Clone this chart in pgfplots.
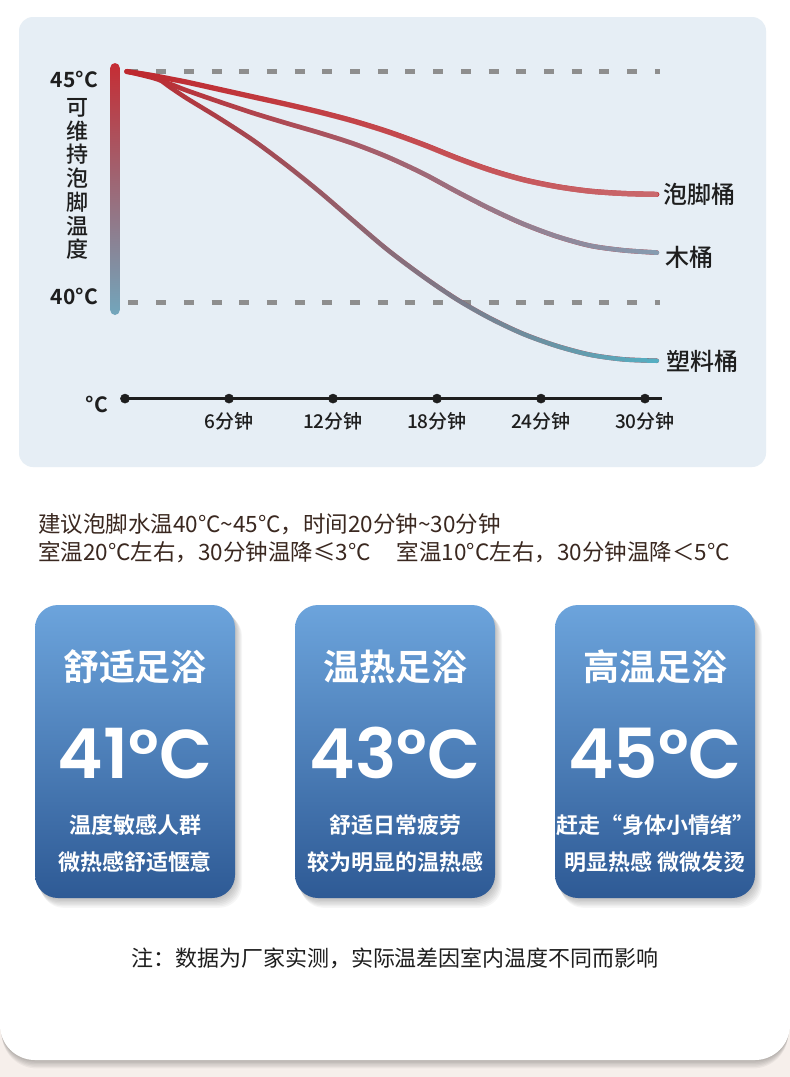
\documentclass[border=0pt]{standalone}
\usepackage{fontspec}
\usepackage{pgfplots}
\pgfplotsset{compat=1.18}
\usetikzlibrary{fadings}
\setmainfont{Noto Sans CJK SC}
\newfontfamily\cjkb{Noto Sans CJK SC Bold}
\newfontfamily\cjkm{Noto Sans CJK SC Medium}
\newfontfamily\pop{Poppins SemiBold}
\definecolor{pagebg}{RGB}{246,239,235}
\definecolor{panel}{RGB}{230,238,245}
\definecolor{dashgray}{RGB}{142,142,142}
\definecolor{axisblack}{RGB}{30,30,30}
\definecolor{txt}{RGB}{30,30,30}
\definecolor{brown}{RGB}{58,40,32}
\definecolor{cardtop}{RGB}{108,164,220}
\definecolor{cardbot}{RGB}{46,90,149}
\definecolor{bartop}{RGB}{197,45,52}
\definecolor{barbot}{RGB}{114,166,188}
\definecolor{cstart}{RGB}{190,40,46}
\definecolor{pjend}{RGB}{202,106,110}
\definecolor{mtend}{RGB}{134,157,178}
\definecolor{slend}{RGB}{84,176,196}
\tikzfading[name=fadeR, left color=transparent!100, right color=transparent!0]
\newcommand{\card}[5]{%
 \foreach \k in {1,...,7} {\fill[black,opacity=0.035,rounded corners=23] (#1-100+\k*0.8,-605-\k*1.2) rectangle (#1+100+\k*1.0,-898-\k*1.4);}
 \shade[top color=cardtop,bottom color=cardbot,rounded corners=23] (#1-100,-605) rectangle (#1+100,-898);
 \node[white,inner sep=0,font=\cjkb\fontsize{36}{36}\selectfont] at (#1,-667) {#2};
 \node[white,inner sep=0,anchor=base,font=\pop\fontsize{69}{69}\selectfont] at (#1,-778) {#3};
 \node[white,inner sep=0,font=\cjkb\fontsize{22}{22}\selectfont] at (#1,-825) {#4};
 \node[white,inner sep=0,font=\cjkb\fontsize{22}{22}\selectfont] at (#1,-862) {#5};
}
\pgfplotstableread{
t     pj     mt     sl
0.10  45.00  45.00  45.00
1.63  44.91  44.86  44.90
2.60  44.84  44.73  44.66
3.56  44.77  44.59  44.42
5.48  44.61  44.34  43.98
7.40  44.45  44.10  43.51
9.33  44.29  43.88  42.97
11.25 44.12  43.67  42.39
13.17 43.93  43.44  41.77
15.15 43.70  43.15  41.14
17.21 43.42  42.79  40.56
19.14 43.13  42.40  40.07
21.06 42.87  42.03  39.66
22.98 42.66  41.70  39.32
24.91 42.51  41.43  39.06
26.83 42.41  41.23  38.87
28.75 42.36  41.13  38.77
30.68 42.34  41.08  38.74
}\curves
\begin{document}
\begin{tikzpicture}[x=1pt,y=1pt]
\fill[pagebg] (0,0) rectangle (790,-1077);
\foreach \k in {1,...,6} {\fill[black,opacity=0.045,rounded corners=35] (\k*0.3,40) rectangle (790-\k*0.3,-1060-\k*1.4);}
\fill[white,rounded corners=35] (0,40) rectangle (790,-1060);
\fill[panel,rounded corners=14] (19,-17) rectangle (766,-467);
\shade[top color=bartop,bottom color=barbot,rounded corners=4.9] (110.2,-63) rectangle (119.8,-315);

\begin{axis}[at={(90.333pt,-418pt)}, anchor=south west, x=17.333pt, y=46.2pt,
  xmin=-2, xmax=32, ymin=37.5, ymax=45.5, hide axis, clip=false]
\addplot[dashgray, line width=5pt, dash pattern=on 10pt off 17.7pt] coordinates {(0.2,45) (30.85,45)};
\addplot[dashgray, line width=5pt, dash pattern=on 10pt off 17.7pt] coordinates {(0.2,40) (30.85,40)};
\addplot[axisblack, line width=3.3pt] coordinates {(0,37.92) (31.0,37.92)};
\addplot[only marks, mark=*, mark size=4.6pt, axisblack] coordinates {(0,37.92) (6,37.92) (12,37.92) (18,37.92) (24,37.92) (30,37.92)};
% plastic bucket
\addplot[smooth, cstart, line width=4.5pt, line cap=round] table[x=t,y=sl] {\curves};
\addplot[smooth, slend, line width=4.5pt, line cap=round, path fading=fadeR] table[x=t,y=sl] {\curves};
% wooden bucket
\addplot[smooth, cstart, line width=4.6pt, line cap=round] table[x=t,y=mt] {\curves};
\addplot[smooth, mtend, line width=4.6pt, line cap=round, path fading=fadeR] table[x=t,y=mt] {\curves};
% foot bath bucket
\addplot[smooth, cstart, line width=5.2pt, line cap=round] table[x=t,y=pj] {\curves};
\addplot[smooth, pjend, line width=5.2pt, line cap=round, path fading=fadeR] table[x=t,y=pj] {\curves};
\foreach \t/\lab in {6/6分钟,12/12分钟,18/18分钟,24/24分钟,30/30分钟} {
  \edef\temp{\noexpand\node[txt,inner sep=0,font=\noexpand\cjkm\noexpand\fontsize{19}{19}\noexpand\selectfont] at (axis cs:\t,37.42) {\lab};}
  \temp
}
\end{axis}

% left labels
\node[txt,anchor=east,inner sep=0,font=\cjkb\fontsize{21}{21}\selectfont] at (98,-79) {45°C};
\node[txt,anchor=east,inner sep=0,font=\cjkb\fontsize{21}{21}\selectfont] at (98,-296) {40°C};
\node[txt,anchor=east,inner sep=0,font=\cjkb\fontsize{21}{21}\selectfont] at (108,-404) {°C};
\node[txt,inner sep=0,align=center,font=\cjkm\fontsize{22}{23.7}\selectfont] at (77,-179) {可\\维\\持\\泡\\脚\\温\\度};
% right labels
\node[txt,anchor=west,inner sep=0,font=\cjkm\fontsize{24}{24}\selectfont] at (663,-194) {泡脚桶};
\node[txt,anchor=west,inner sep=0,font=\cjkm\fontsize{24}{24}\selectfont] at (665,-257) {木桶};
\node[txt,anchor=west,inner sep=0,font=\cjkm\fontsize{24}{24}\selectfont] at (666,-361) {塑料桶};

% text lines
\node[brown,anchor=west,inner sep=0,font=\fontsize{22.5}{22.5}\selectfont] at (38,-524) {建议泡脚水温40°C\textasciitilde 45°C，时间20分钟\textasciitilde 30分钟};
\node[brown,anchor=west,inner sep=0,font=\fontsize{22.5}{22.5}\selectfont] at (38,-552) {室温20°C左右，30分钟温降≤3°C\hspace{26pt}室温10°C左右，30分钟温降＜5°C};

\card{135}{舒适足浴}{41°C}{温度敏感人群}{微热感舒适惬意}
\card{395}{温热足浴}{43°C}{舒适日常疲劳}{较为明显的温热感}
\card{655}{高温足浴}{45°C}{赶走“身体小情绪”}{明显热感 微微发烫}

\node[txt,inner sep=0,font=\fontsize{22}{22}\selectfont] at (395,-958) {注：数据为厂家实测，实际温差因室内温度不同而影响};

\pgfresetboundingbox
\path[use as bounding box] (0,0) rectangle (790,-1077);
\end{tikzpicture}
\end{document}
